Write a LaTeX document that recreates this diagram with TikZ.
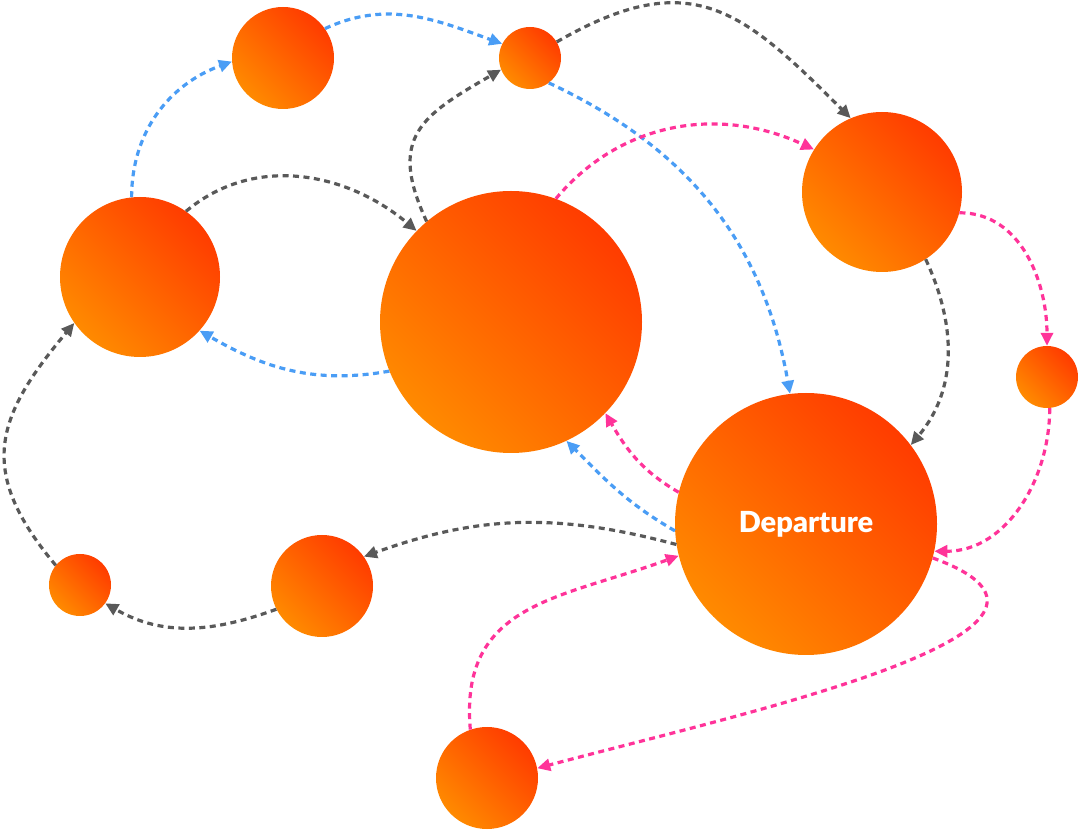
\documentclass[tikz,border=0pt]{standalone}
\usepackage{fontspec}
\setsansfont{Lato}[BoldFont={* Black}]
\usepackage{tikz}
\usetikzlibrary{arrows.meta}

\definecolor{bubblelow}{HTML}{FF8A00}
\definecolor{bubblehigh}{HTML}{FF3C00}
\definecolor{linkblue}{HTML}{4A9DF5}
\definecolor{linkgray}{HTML}{595959}
\definecolor{linkpink}{HTML}{FF3399}

\begin{document}
\begin{tikzpicture}[x=1pt,y=1pt,
  bubble/.style={circle,inner sep=0pt,minimum size=#1,bottom color=bubblelow,top color=bubblehigh,shading angle=-45},
  link/.style={line width=3.2pt,dash pattern=on 6pt off 4.5pt,draw=#1,-{Triangle[length=13pt,width=12pt,fill=#1]}}]
\useasboundingbox (0,0) rectangle (1080,831);
\node[bubble=102pt] (a) at (283,773) {};
\node[bubble=62pt] (b) at (530,773) {};
\node[bubble=160pt] (c) at (140,554) {};
\node[bubble=262pt] (d) at (511,509) {};
\node[bubble=160pt] (e) at (882,639) {};
\node[bubble=62pt] (f) at (1047,454) {};
\node[bubble=262pt,text=white,font=\sffamily\bfseries\fontsize{29}{31}\selectfont] (dep) at (806,307) {Departure};
\node[bubble=102pt] (h) at (322,245) {};
\node[bubble=62pt] (i) at (80,246) {};
\node[bubble=102pt] (j) at (487,53) {};
% blue links
\draw[link=linkblue] (c.96) to[out=90,in=200] (a.184);
\draw[link=linkblue] (a.35) to[out=25,in=160] (b.153);
\draw[link=linkblue] (b.-53) to[out=-25,in=100] (dep.97);
\draw[link=linkblue] (d.202) to[out=190,in=-30] (c.-42);
\draw[link=linkblue] (dep.183) to[out=150,in=-45] (d.-65);
% gray links
\draw[link=linkgray] (b.31) to[out=30,in=135,looseness=1.3] (e.113);
\draw[link=linkgray] (d.130) to[out=115,in=210,looseness=1.4] (b.202);
\draw[link=linkgray] (c.55) to[out=40,in=140] (d.136);
\draw[link=linkgray] (e.-57) to[out=-65,in=50] (dep.37);
\draw[link=linkgray] (dep.189) to[out=165,in=20] (h.35);
\draw[link=linkgray] (h.207) to[out=200,in=-30] (i.-36);
\draw[link=linkgray] (i.141) to[out=130,in=230,looseness=1.3] (c.215);
% pink links
\draw[link=linkpink] (d.70) to[out=50,in=155] (e.148);
\draw[link=linkpink] (e.-15) to[out=0,in=90] (f.90);
\draw[link=linkpink] (f.-85) to[out=-90,in=0] (dep.-12);
\draw[link=linkpink] (dep.166) to[out=150,in=-60] (d.-44);
\draw[link=linkpink] (j.109) to[out=95,in=200,looseness=1.2] (dep.194);
\draw[link=linkpink] (dep.-15) to[out=-20,in=15,looseness=1.2] (j.11);
\end{tikzpicture}
\end{document}
